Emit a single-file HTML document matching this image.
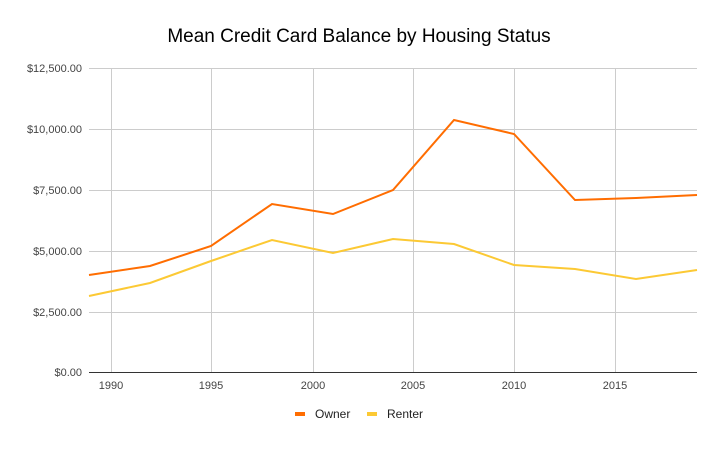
<!DOCTYPE html>
<html><head><style>body{margin:0;background:#fff}</style></head><body>
<svg width="719" height="444" xmlns="http://www.w3.org/2000/svg" font-family="Liberation Sans, Arial, sans-serif">
<rect width="719" height="444" fill="#fff"/>
<text x="359" y="42" text-anchor="middle" font-size="19" fill="#000">Mean Credit Card Balance by Housing Status</text>
<g stroke="#ccc" stroke-width="1">
<line x1="89" x2="697" y1="68.5" y2="68.5"/><line x1="89" x2="697" y1="129.5" y2="129.5"/><line x1="89" x2="697" y1="190.5" y2="190.5"/><line x1="89" x2="697" y1="251.5" y2="251.5"/><line x1="89" x2="697" y1="312.5" y2="312.5"/>
<line x1="111.5" x2="111.5" y1="68" y2="372"/><line x1="211.5" x2="211.5" y1="68" y2="372"/><line x1="313.5" x2="313.5" y1="68" y2="372"/><line x1="413.5" x2="413.5" y1="68" y2="372"/><line x1="514.5" x2="514.5" y1="68" y2="372"/><line x1="615.5" x2="615.5" y1="68" y2="372"/>
</g>
<line x1="89" x2="697" y1="372.5" y2="372.5" stroke="#333"/>
<g font-size="11" fill="#444" text-anchor="end">
<text x="82" y="72">$12,500.00</text><text x="82" y="133">$10,000.00</text><text x="82" y="194">$7,500.00</text><text x="82" y="255">$5,000.00</text><text x="82" y="316">$2,500.00</text><text x="82" y="376">$0.00</text>
</g>
<g font-size="11" fill="#444" text-anchor="middle">
<text x="111" y="389">1990</text><text x="211" y="389">1995</text><text x="313" y="389">2000</text><text x="413" y="389">2005</text><text x="514" y="389">2010</text><text x="615" y="389">2015</text>
</g>
<polyline fill="none" stroke="#ff6d01" stroke-width="2" points="89,275 150,266 211,246 272,204 333,214 393,190 454,120 514,134 575,200 636,198 697,195"/>
<polyline fill="none" stroke="#fcc934" stroke-width="2" points="89,296 150,283 211,261 272,240 333,253 393,239 454,244 514,265 575,269 636,279 697,270"/>
<rect x="295" y="412" width="10" height="4" fill="#ff6d01"/>
<text x="315" y="418" font-size="12" fill="#222">Owner</text>
<rect x="367" y="412" width="10" height="4" fill="#fcc934"/>
<text x="387" y="418" font-size="12" fill="#222">Renter</text>
</svg>
</body></html>
